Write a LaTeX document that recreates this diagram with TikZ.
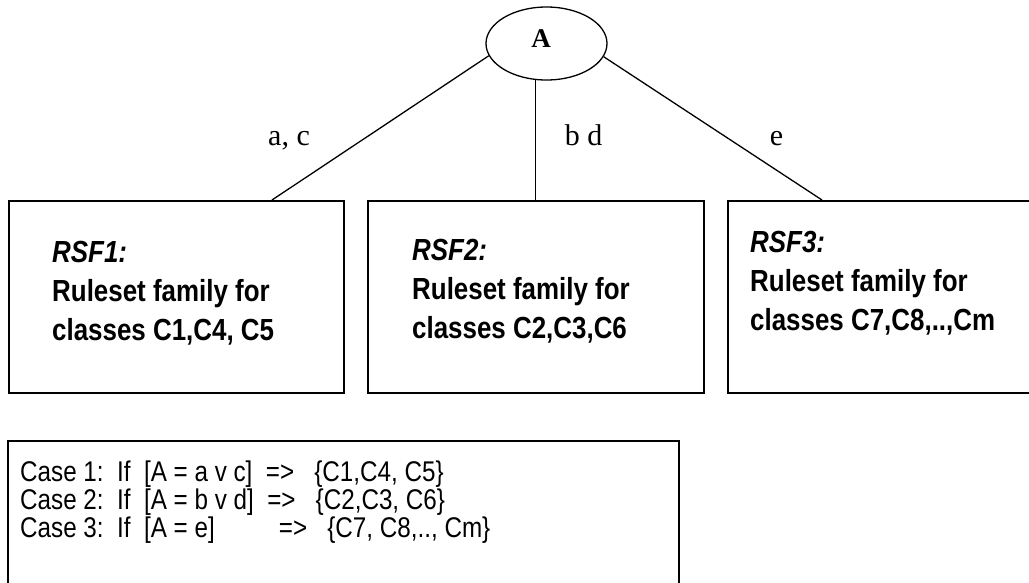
\documentclass[tikz,border=0pt]{standalone}
\usepackage{fontspec}
\setmainfont{Liberation Serif}
\newfontfamily\narrowsans[FakeStretch=0.85]{Liberation Sans}
\usetikzlibrary{shapes.geometric}
\tikzset{
  conn/.style={line width=1.3pt},
  framebox/.style={draw, line width=1.6pt, rectangle, inner sep=0pt, anchor=north west},
  boxtext/.style={font=\narrowsans\bfseries\fontsize{30.5}{36}\selectfont, anchor=base west, inner sep=0pt},
  casetext/.style={font=\narrowsans\fontsize{28.5}{32}\selectfont, anchor=base west, inner sep=0pt},
  edgelabel/.style={font=\fontsize{30}{34}\selectfont, anchor=base, inner sep=0pt},
  root/.style={draw, ellipse, line width=1.3pt, minimum width=121pt, minimum height=73pt, inner sep=0pt},
  roottext/.style={font=\bfseries\fontsize{27}{32}\selectfont, anchor=base, inner sep=0pt}
}
\begin{document}
\begin{tikzpicture}[x=1pt,y=-1pt]
\clip (0,0) rectangle (1029,582);
\fill[white] (0,0) rectangle (1029,582);
% root
\node[root] (A) at (546.5,43.5) {};
\node[roottext] (Alabel) at (541,47) {A};
% boxes
\node[framebox, minimum width=335pt, minimum height=192pt] (b1) at (8,200) {};
\node[framebox, minimum width=336pt, minimum height=192pt] (b2) at (367,200) {};
\node[framebox, minimum width=340pt, minimum height=192pt] (b3) at (727,200) {};
\node[framebox, minimum width=671pt, minimum height=180pt] (cases) at (7,440) {};
% connector ends
\coordinate (t1) at (272,200);
\coordinate (t3) at (822,200);
\draw[conn] (A.192.5) -- (t1);
\draw[conn] (A.253.3) -- (A.253.3 |- b2.north);
\draw[conn] (A.347.5) -- (t3);
% edge labels
\node[edgelabel] (l1) at (289,145) {a, c};
\node[edgelabel] (l2) at (583.5,145) {b d};
\node[edgelabel] (l3) at (776.5,145) {e};
% box texts
\node[boxtext] (r1a) at (52,262) {\itshape RSF1:};
\node[boxtext] (r1b) at (52,301) {Ruleset family for};
\node[boxtext] (r1c) at (52,340) {classes C1,C4, C5};
\node[boxtext] (r2a) at (412,260) {\itshape RSF2:};
\node[boxtext] (r2b) at (412,299) {Ruleset family for};
\node[boxtext] (r2c) at (412,338) {classes C2,C3,C6};
\node[boxtext] (r3a) at (750,252) {\itshape RSF3:};
\node[boxtext] (r3b) at (750,291) {Ruleset family for};
\node[boxtext] (r3c) at (750,330) {classes C7,C8,..,Cm};
% cases
\node[casetext] (c1) at (20,481) {Case 1:\ \ If\ \ [A = a v c]\ \ =>\ \ \ \{C1,C4, C5\}};
\node[casetext] (c2) at (20,509) {Case 2:\ \ If\ \ [A = b v d]\ \ =>\ \ \ \{C2,C3, C6\}};
\node[casetext] (c3) at (20,537) {Case 3:\ \ If\ \ \makebox[0pt][l]{[A = e]}\phantom{[A = a v c]\ \ }\hspace{13pt}=>\ \ \ \{C7, C8,.., Cm\}};
\end{tikzpicture}
\end{document}
